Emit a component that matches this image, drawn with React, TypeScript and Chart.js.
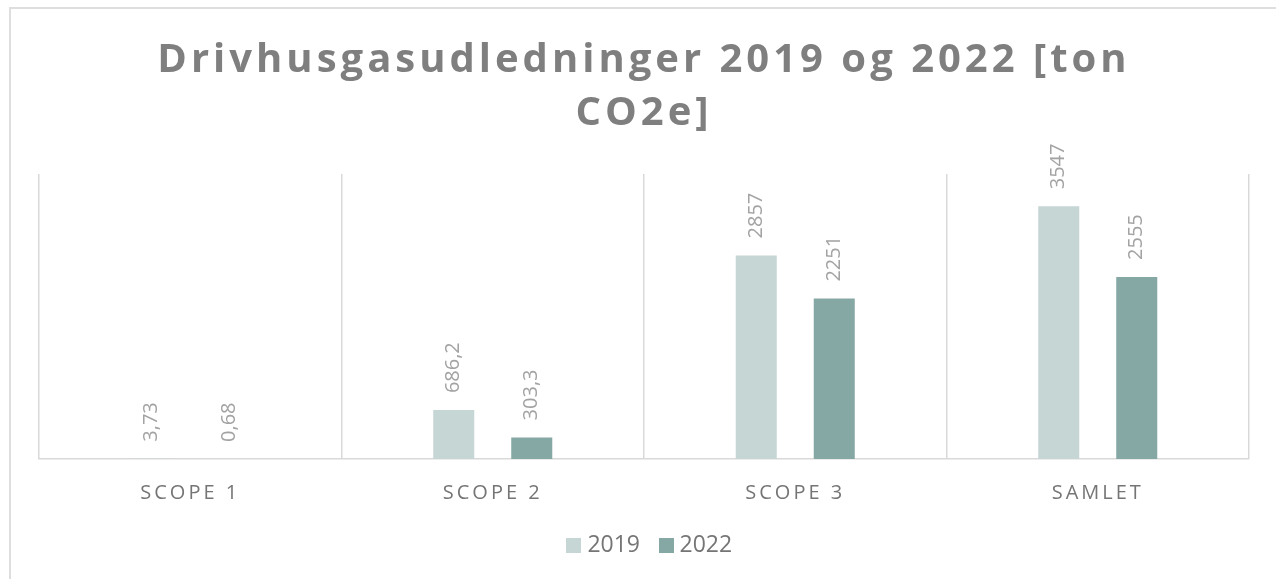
import { useEffect, useRef } from 'react';
import { Chart, registerables } from 'chart.js';

Chart.register(...registerables);

// ---- data ----
const categories = ['SCOPE 1', 'SCOPE 2', 'SCOPE 3', 'SAMLET'];
const seriesLabels = ['2019', '2022'];
const values2019 = [3.73, 686.2, 2857, 3547];
const values2022 = [0.68, 303.3, 2251, 2555];
const titleLines = ['Drivhusgasudledninger 2019 og 2022 [ton', 'CO2e]'];
const yMin = 0;
const yMax = 4000;

// ---- style ----
const W = 1265;
const H = 590;
const FONT = '"Open Sans", "Noto Sans", sans-serif';
const COLORS = ['#c5d6d4', '#86a8a4'];
const TITLE_SPACING = '4px';
const TICK_SPACING = '3px';
const LEGEND_SHIFT = 8;

const fmt = (v: number) => String(v).replace('.', ',');

const spacingPlugin = {
  id: 'spacing',
  beforeDraw(chart: any) {
    const wrap = (obj: any, key: string, sp: string, dx = 0) => {
      if (!obj || obj['__sp_' + key]) return;
      const orig = obj[key];
      obj[key] = function (...args: any[]) {
        const c = chart.ctx;
        c.save();
        c.letterSpacing = sp;
        if (dx) c.translate(dx, 0);
        const r = orig.apply(this, args);
        c.restore();
        return r;
      };
      obj['__sp_' + key] = true;
    };
    chart.ctx.letterSpacing = '0px';
    wrap(chart.titleBlock, 'draw', TITLE_SPACING);
    wrap(chart.scales.x, 'drawLabels', TICK_SPACING);
    wrap(chart.legend, 'draw', '0px', LEGEND_SHIFT);
  },
};

const dataLabelPlugin = {
  id: 'rotLabels',
  afterDatasetsDraw(chart: any) {
    const ctx = chart.ctx;
    ctx.save();
    ctx.letterSpacing = '0px';
    ctx.font = `20px ${FONT}`;
    ctx.fillStyle = '#a3a3a3';
    ctx.textAlign = 'left';
    ctx.textBaseline = 'middle';
    chart.data.datasets.forEach((ds: any, di: number) => {
      const meta = chart.getDatasetMeta(di);
      meta.data.forEach((bar: any, i: number) => {
        ctx.save();
        ctx.translate(bar.x, bar.y - 17);
        ctx.rotate(-Math.PI / 2);
        ctx.fillText(fmt(ds.data[i]), 0, 0);
        ctx.restore();
      });
    });
    ctx.restore();
  },
};

function swatch(color: string) {
  const c = document.createElement('canvas');
  c.width = 15;
  c.height = 15;
  const x = c.getContext('2d')!;
  x.fillStyle = color;
  x.fillRect(0, 0, 15, 15);
  return c;
}

export default function App() {
  const ref = useRef<HTMLCanvasElement>(null);

  useEffect(() => {
    document.body.style.overflow = 'hidden';
    document.documentElement.style.overflow = 'hidden';
    const swatches = COLORS.map(swatch);
    const chart = new Chart(ref.current as HTMLCanvasElement, {
      type: 'bar',
      data: {
        labels: categories,
        datasets: [
          {
            label: seriesLabels[0],
            data: values2019,
            backgroundColor: COLORS[0],
            categoryPercentage: 0.5157,
            barPercentage: 0.526,
          },
          {
            label: seriesLabels[1],
            data: values2022,
            backgroundColor: COLORS[1],
            categoryPercentage: 0.5157,
            barPercentage: 0.526,
          },
        ],
      },
      options: {
        responsive: false,
        animation: false,
        layout: { padding: { left: 28, right: 27, top: 0, bottom: 32 } },
        scales: {
          x: {
            grid: { color: '#d9d9d9', lineWidth: 1.5, drawTicks: false, offset: true },
            border: { color: '#d9d9d9', width: 1.5 },
            ticks: {
              color: '#757575',
              font: { family: FONT, size: 20 },
              padding: 22,
              maxRotation: 0,
              autoSkip: false,
            },
            afterFit: (s: any) => {
              s.height = 51;
            },
          },
          y: { display: false, min: yMin, max: yMax },
        },
        plugins: {
          title: {
            display: true,
            text: titleLines,
            color: '#7f7f7f',
            font: { family: FONT, size: 40, weight: 'bold', lineHeight: '53px' },
            padding: { top: 25, bottom: 34 },
          },
          legend: {
            position: 'bottom',
            labels: {
              color: '#757575',
              font: { family: FONT, size: 23 },
              usePointStyle: true,
              pointStyleWidth: 4,
              padding: 24,
              generateLabels: (c: any) =>
                (Chart.defaults.plugins.legend.labels.generateLabels as any)(c).map(
                  (it: any, i: number) => ({ ...it, pointStyle: swatches[i] })
                ),
            },
          },
          tooltip: { enabled: false },
        },
      } as any,
      plugins: [spacingPlugin, dataLabelPlugin],
    });
    return () => chart.destroy();
  }, []);

  return (
    <div
      style={{
        position: 'fixed',
        left: 9,
        top: 7,
        width: W,
        height: H,
        border: '2px solid #dedede',
        background: '#fff',
      }}
    >
      <canvas ref={ref} width={W} height={H} style={{ display: 'block', width: W, height: H }} />
    </div>
  );
}
